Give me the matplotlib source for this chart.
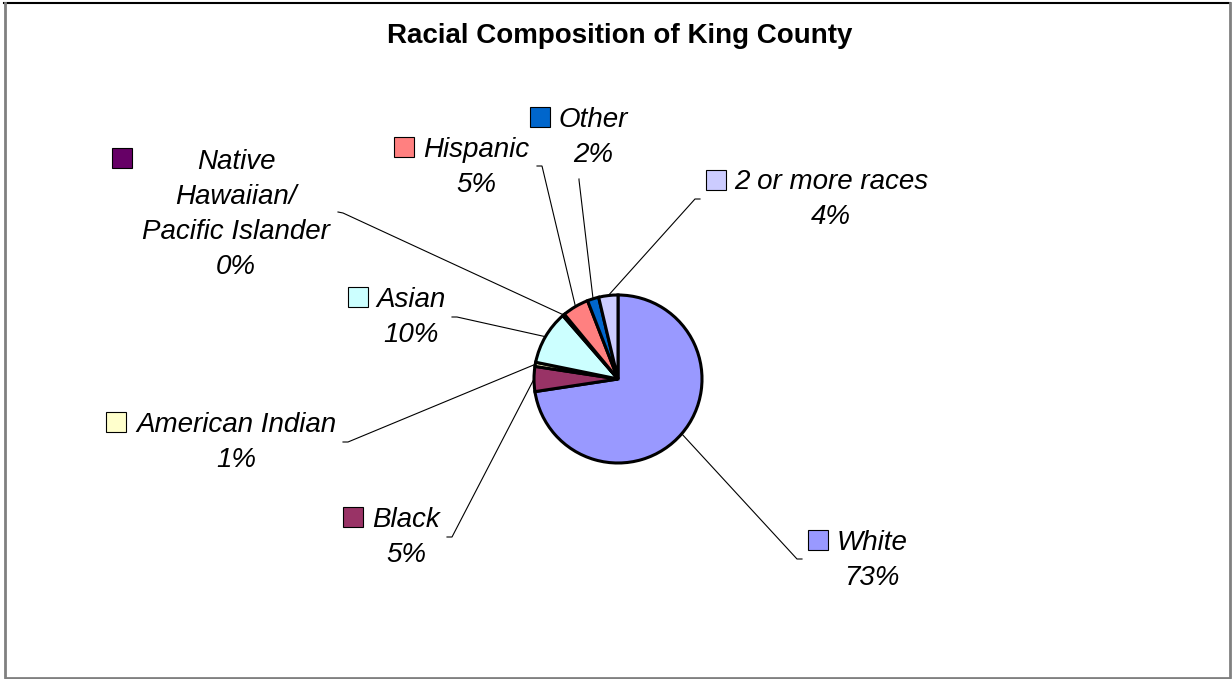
import matplotlib
matplotlib.use("Agg")
import numpy as np
import matplotlib.pyplot as plt
from matplotlib.patches import Rectangle

# ----------------------------
# Data
# ----------------------------
groups = ["White", "Black", "American Indian", "Asian",
          "Native Hawaiian/Pacific Islander", "Hispanic", "Other", "2 or more races"]
shares = [72.6, 4.8, 0.8, 10.4, 0.4, 5.1, 2.2, 3.7]
colors = ["#9999FF", "#993366", "#FFFFCC", "#CCFFFF",
          "#660066", "#FF8080", "#0066CC", "#CCCCFF"]
label_lines = [["White"], ["Black"], ["American Indian"], ["Asian"],
               ["Native", "Hawaiian/", "Pacific Islander"], ["Hispanic"],
               ["Other"], ["2 or more races"]]
title = "Racial Composition of King County"

# ----------------------------
# Layout (pixel coordinates, y down)
# ----------------------------
W, H = 1232, 679
pie_center = (618, 379)
pie_radius = 84
# text centre x, first baseline y
label_pos = [(872, 550), (406, 527), (236, 432), (411, 307),
             (236, 169), (476, 157), (593, 127), (831, 189)]
# legend key left x, top y
key_pos = [(808, 530), (343, 507), (106, 412), (348, 287),
           (112, 148), (394, 137), (530, 107), (706, 170)]
# leader line bend point and end point
leader_pts = [((797, 559), (802, 559)), ((452, 537), (447, 537)),
              ((348, 442), (343, 442)), ((457, 317), (452, 317)),
              ((343, 213), (338, 212)), ((542, 166), (537, 166)),
              ((579, 180), (579, 179)), ((695, 199), (700, 199))]
line_pitch = 35

plt.rcParams["font.family"] = ["Liberation Sans", "DejaVu Sans"]

fig = plt.figure(figsize=(W / 100, H / 100), dpi=100)
ax = fig.add_axes([0, 0, 1, 1])

# y axis is flipped below, so counterclock in data = clockwise on screen
wedges, _ = ax.pie(shares, colors=colors, startangle=-90, counterclock=True,
                   center=pie_center, radius=pie_radius,
                   wedgeprops=dict(edgecolor="black", linewidth=2.2))
ax.set_xlim(0, W)
ax.set_ylim(H, 0)
ax.axis("off")

for i, wedge in enumerate(wedges):
    # leader line starts at the middle of the wedge's arc
    mid = np.deg2rad((wedge.theta1 + wedge.theta2) / 2)
    sx = pie_center[0] + pie_radius * np.cos(mid)
    sy = pie_center[1] + pie_radius * np.sin(mid)
    (bx, by), (ex, ey) = leader_pts[i]
    ax.plot([sx, bx, ex], [sy, by, ey], color="black", linewidth=0.8,
            solid_joinstyle="miter")

    lines = label_lines[i] + [f"{shares[i]:.0f}%"]
    cx, by0 = label_pos[i]
    for j, txt in enumerate(lines):
        ax.text(cx, by0 + j * line_pitch, txt, ha="center", va="baseline",
                fontsize=20, fontstyle="italic", color="black")

    kx, ky = key_pos[i]
    ax.add_patch(Rectangle((kx, ky), 20, 20, facecolor=colors[i],
                           edgecolor="black", linewidth=0.8))

ax.text(620, 43, title, ha="center", va="baseline", fontsize=20,
        fontweight="bold", color="black")

# chart frame
ax.plot([4, 1230], [3, 3], color="black", linewidth=1.5)
ax.plot([5, 5, 1230, 1230], [3, 678, 678, 3], color="#808080", linewidth=2)

fig.savefig("out.png", dpi=100)
